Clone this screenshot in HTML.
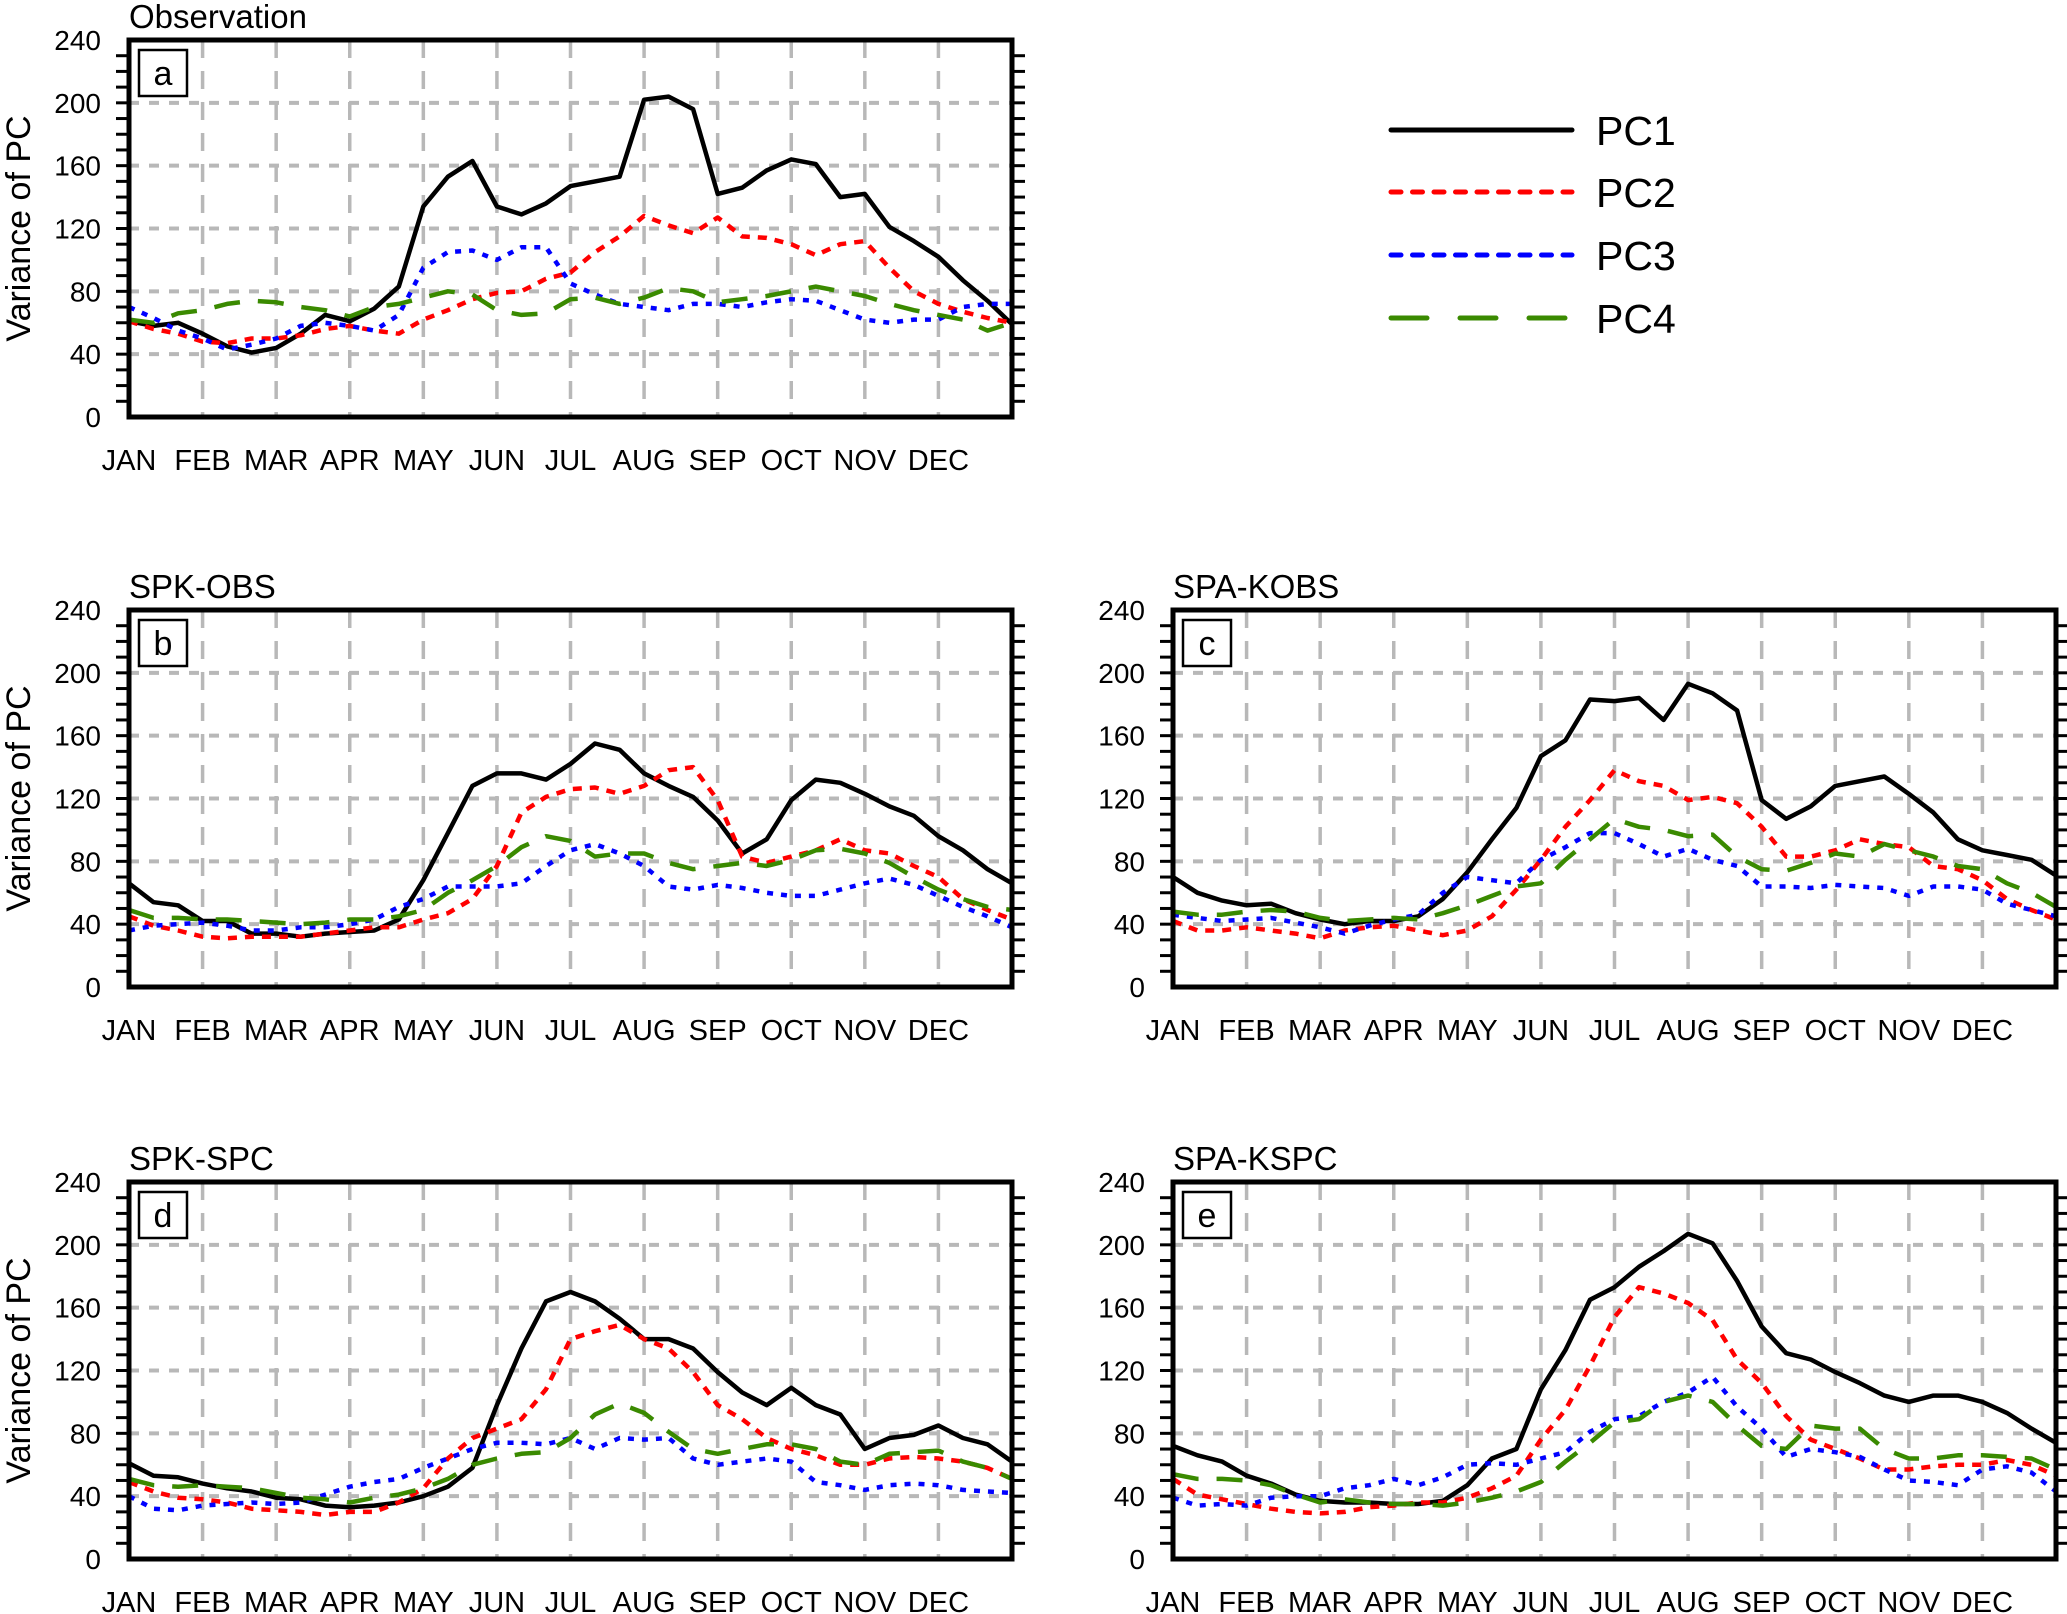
<!DOCTYPE html>
<html><head><meta charset="utf-8"><style>
html,body{margin:0;padding:0;background:#fff;}
svg{display:block;font-family:"Liberation Sans",Arial,sans-serif;}
</style></head><body>
<svg id="fig" width="2067" height="1614" viewBox="0 0 2067 1614" xmlns="http://www.w3.org/2000/svg"></svg>
<script>
const months = ["JAN","FEB","MAR","APR","MAY","JUN","JUL","AUG","SEP","OCT","NOV","DEC"];
const yTicks = [0,40,80,120,160,200,240];
const seriesNames = ["PC1","PC2","PC3","PC4"];
const panelTitles = ["Observation","SPK-OBS","SPA-KOBS","SPK-SPC","SPA-KSPC"];
const panelLetters = ["a","b","c","d","e"];
// values sampled every 1/36 of the year (37 points)
const aPC1 = [61,58,60,53,45,41,44,53,65,61,69,83,134,153,163,134,129,136,147,150,153,202,204,196,142,146,157,164,161,140,142,121,112,102,87,74,59];
const aPC2 = [61,56,53,48,47,50,50,52,56,58,55,53,62,68,75,79,80,88,92,105,115,128,122,117,127,115,114,110,103,110,112,95,80,72,67,63,60];
const aPC3 = [70,63,55,50,43,46,50,58,60,58,55,65,95,105,106,100,108,108,85,78,72,70,68,72,72,70,73,75,74,68,62,60,62,62,70,72,72];
const aPC4 = [62,60,66,68,72,74,73,70,68,64,70,72,76,80,78,68,65,66,75,76,72,76,82,80,73,75,77,80,83,80,77,72,68,65,62,55,60];
const bPC1 = [66,54,52,42,42,34,34,32,34,35,36,43,68,98,128,136,136,132,142,155,151,136,128,121,106,85,94,119,132,130,123,115,109,96,87,75,66];
const bPC2 = [45,39,36,32,31,32,32,32,34,36,38,38,43,47,56,77,111,121,126,127,123,128,138,140,119,83,79,83,87,94,87,85,77,70,56,49,43];
const bPC3 = [36,39,40,41,39,36,36,38,38,40,43,51,56,64,64,64,66,77,87,91,85,77,64,62,65,63,60,58,58,62,66,69,65,58,51,45,38];
const bPC4 = [49,44,44,43,43,42,41,40,41,43,43,45,49,60,68,77,89,96,93,83,85,85,79,75,77,79,77,81,87,88,85,79,70,62,56,51,49];
const cPC1 = [70,60,55,52,53,47,43,40,42,42,45,56,73,94,114,147,157,183,182,184,170,193,187,176,119,107,115,128,131,134,123,111,94,87,84,81,71];
const cPC2 = [42,36,36,38,36,34,31,36,38,39,36,33,36,45,62,81,102,119,138,131,128,119,121,117,102,83,83,87,94,91,89,77,75,68,56,49,43];
const cPC3 = [46,44,42,43,44,41,38,34,39,43,46,60,70,68,66,81,89,98,98,91,83,88,81,77,64,64,63,65,64,63,58,64,64,62,53,49,45];
const cPC4 = [48,46,46,48,49,48,44,42,43,44,43,47,52,58,64,66,81,94,107,102,100,96,97,83,75,74,79,85,83,91,87,83,77,75,66,60,51];
const dPC1 = [61,53,52,48,45,43,39,38,34,33,34,36,40,46,58,98,134,164,170,164,153,140,140,134,119,106,98,109,98,92,70,77,79,85,77,73,62];
const dPC2 = [49,43,39,38,36,32,31,30,28,30,30,36,45,64,77,83,89,108,140,145,149,140,134,119,98,89,77,70,66,60,60,64,65,64,62,58,51];
const dPC3 = [40,32,31,34,35,36,35,36,41,46,49,51,58,64,70,74,74,73,77,70,77,76,77,64,60,62,64,62,49,47,44,47,48,47,44,43,42];
const dPC4 = [51,47,46,47,46,45,42,39,38,36,39,41,45,51,60,64,67,68,77,92,99,93,81,70,67,70,73,73,70,62,60,67,68,69,62,58,51];
const ePC1 = [72,66,62,53,48,41,37,36,36,35,35,37,47,64,70,108,133,165,173,186,196,207,201,177,148,131,127,119,112,104,100,104,104,100,93,83,74];
const ePC2 = [51,41,38,35,32,30,29,30,33,34,36,36,39,45,53,76,95,123,154,173,169,163,152,127,112,91,76,70,64,57,57,59,60,60,63,60,53];
const ePC3 = [39,34,35,34,39,40,40,45,47,51,47,52,60,61,60,64,68,81,89,91,100,106,116,97,83,65,70,68,65,57,50,49,47,57,59,55,43];
const ePC4 = [54,51,51,50,47,41,36,38,36,35,35,34,36,39,43,49,62,74,87,89,100,104,100,85,72,70,85,83,83,70,64,64,66,66,65,64,57];

const panelsData = [[aPC1,aPC2,aPC3,aPC4],[bPC1,bPC2,bPC3,bPC4],[cPC1,cPC2,cPC3,cPC4],[dPC1,dPC2,dPC3,dPC4],[ePC1,ePC2,ePC3,ePC4]];
const boxes = [[129,40],[129,610],[1173,610],[129,1182],[1173,1182]];
const W = 883, H = 377, YMAX = 240;
const styles = [
  {c:"#000",w:4.5,d:""},
  {c:"#ff0000",w:4.5,d:"9 8"},
  {c:"#0000ff",w:4.5,d:"6 8"},
  {c:"#3a8a00",w:4.5,d:"26 18"}
];
const NS = "http://www.w3.org/2000/svg";
const svg = document.getElementById("fig");
function mk(tag, attrs, parent){
  const e = document.createElementNS(NS, tag);
  for (const k in attrs) e.setAttribute(k, attrs[k]);
  (parent||svg).appendChild(e);
  return e;
}
panelsData.forEach((series, p) => {
  const [x0, y0] = boxes[p];
  const xs = t => x0 + t * W;
  const ys = v => y0 + H - v / YMAX * H;
  const g = mk("g", {});
  
  
  const t = mk("text", {x: x0, y: y0 - 12, "font-size": 33}, g);
  t.textContent = panelTitles[p];
  
  
  for (let m = 1; m < 12; m++) {
    const gx = xs(m / 12);
    const l = mk("line", {x1: gx, x2: gx, y1: y0, y2: y0 + H, stroke: "#b8b8b8", "stroke-width": 3.5, "stroke-dasharray": "18 13"}, g);
    
    
  }
  yTicks.forEach(v => {
    if (v > 0 && v < YMAX) {
      const l = mk("line", {x1: x0, x2: x0 + W, y1: ys(v), y2: ys(v), stroke: "#b8b8b8", "stroke-width": 4, "stroke-dasharray": "10 10"}, g);
      
      
    }
    const tl = mk("text", {x: x0 - 28, y: ys(v) + 10, "font-size": 28, "text-anchor": "end"}, g);
    tl.textContent = v;
    
    
  });
  for (let v = 10; v < YMAX; v += 10) {
    mk("line", {x1: x0 - 13, x2: x0, y1: ys(v), y2: ys(v), stroke: "#000", "stroke-width": 3}, g);
    mk("line", {x1: x0 + W, x2: x0 + W + 13, y1: ys(v), y2: ys(v), stroke: "#000", "stroke-width": 3}, g);
  }
  months.forEach((m, i) => {
    const ml = mk("text", {x: xs(i / 12), y: y0 + H + 53, "font-size": 29, "text-anchor": "middle"}, g);
    ml.textContent = m;
    
    
  });
  series.forEach((vals, s) => {
    const pts = vals.map((v, i) => xs(i / (vals.length - 1)).toFixed(1) + "," + ys(v).toFixed(1)).join(" ");
    const st = styles[s];
    const pl = mk("polyline", {points: pts, fill: "none", stroke: st.c, "stroke-width": st.w, "stroke-linejoin": "round", "stroke-linecap": s ? "butt" : "round"}, g);
    if (st.d) pl.setAttribute("stroke-dasharray", st.d);
    
    
  });
  const fr = mk("rect", {x: x0, y: y0, width: W, height: H, fill: "none", stroke: "#000", "stroke-width": 5}, g);
  
  
  const lb = mk("rect", {x: x0 + 10, y: y0 + 10, width: 48, height: 46, fill: "#fff", stroke: "#000", "stroke-width": 2.5}, g);
  
  
  const lt = mk("text", {x: x0 + 34, y: y0 + 45, "font-size": 34, "text-anchor": "middle"}, g);
  lt.textContent = panelLetters[p];
  
  
  if (x0 < 500) {
    const yt = mk("text", {x: 0, y: 0, "font-size": 34, "text-anchor": "middle", transform: `translate(30,${y0 + H / 2}) rotate(-90)`}, g);
    yt.textContent = "Variance of PC";
    
    
  }
});
const legY = [130, 192, 255, 318];
const lg = mk("g", {});


seriesNames.forEach((n, s) => {
  const st = styles[s];
  const l = mk("line", {x1: 1391, x2: 1572, y1: legY[s], y2: legY[s], stroke: st.c, "stroke-width": 5, "stroke-linecap": "round"}, lg);
  if (s === 1 || s === 2) l.setAttribute("stroke-dasharray", "10 11.5");
  if (s === 3) l.setAttribute("stroke-dasharray", "36 33");
  
  
  const t = mk("text", {x: 1596, y: legY[s] + 15, "font-size": 41}, lg);
  t.textContent = n;
  
  
});
</script>
</body></html>
